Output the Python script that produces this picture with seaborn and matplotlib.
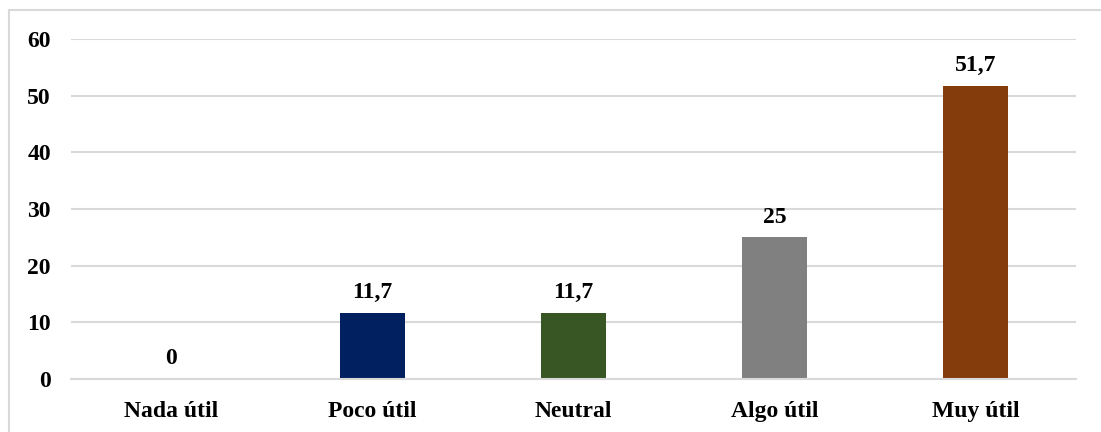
import matplotlib
matplotlib.use("Agg")
import matplotlib.pyplot as plt
from matplotlib.patches import Rectangle
import seaborn as sns
import pandas as pd

categories = ["Nada útil", "Poco útil", "Neutral", "Algo útil", "Muy útil"]
values = [0, 11.7, 11.7, 25, 51.7]
colors = ["#4472C4", "#002060", "#375623", "#808080", "#843C0C"]
y_ticks = [0, 10, 20, 30, 40, 50, 60]

df = pd.DataFrame({"categoria": categories, "valor": values})

sns.set_theme(style="white")
plt.rcParams["font.family"] = ["Liberation Serif", "DejaVu Serif"]
plt.rcParams["font.weight"] = "bold"
plt.rcParams["text.color"] = "black"
plt.rcParams["xtick.color"] = "black"
plt.rcParams["ytick.color"] = "black"

fig = plt.figure(figsize=(11.01, 4.32), dpi=100)
ax = fig.add_axes([71 / 1101, 1 - 379 / 432, 1005 / 1101, 340 / 432])

sns.barplot(data=df, x="categoria", y="valor", hue="categoria",
            palette=colors, order=categories, hue_order=categories,
            width=0.32, linewidth=0, saturation=1, legend=False, ax=ax)

ax.set_ylim(0, 60)
ax.set_xlim(-0.5, len(categories) - 0.5)
ax.set_yticks(y_ticks)
ax.set_yticklabels([str(t) for t in y_ticks], fontsize=17, fontweight="bold",
                   color="black")
ax.set_xticks(range(len(categories)))
ax.set_xticklabels(categories, fontsize=17, fontweight="bold", color="black")
ax.tick_params(axis="both", length=0)
ax.tick_params(axis="y", pad=14.5)
ax.tick_params(axis="x", pad=15.5)
ax.set_xlabel("")
ax.set_ylabel("")

ax.yaxis.grid(True, color="#D9D9D9", linewidth=1.5)
ax.set_axisbelow(True)
for side in ["top", "left", "right"]:
    ax.spines[side].set_visible(False)
ax.spines["bottom"].set_color("#D9D9D9")
ax.spines["bottom"].set_linewidth(1.5)

for i, v in enumerate(values):
    label = f"{v:g}".replace(".", ",")
    ax.annotate(label, (i, v), xytext=(0, 7), textcoords="offset points",
                ha="center", va="bottom", fontsize=17, fontweight="bold",
                color="black")

# chart area frame
fig.patches.append(Rectangle((9 / 1101, -0.1), 1.2, 1 - 10 / 432 + 0.1,
                             transform=fig.transFigure, fill=False,
                             edgecolor="#D9D9D9", linewidth=1.5))

fig.savefig("out.png", dpi=100)
